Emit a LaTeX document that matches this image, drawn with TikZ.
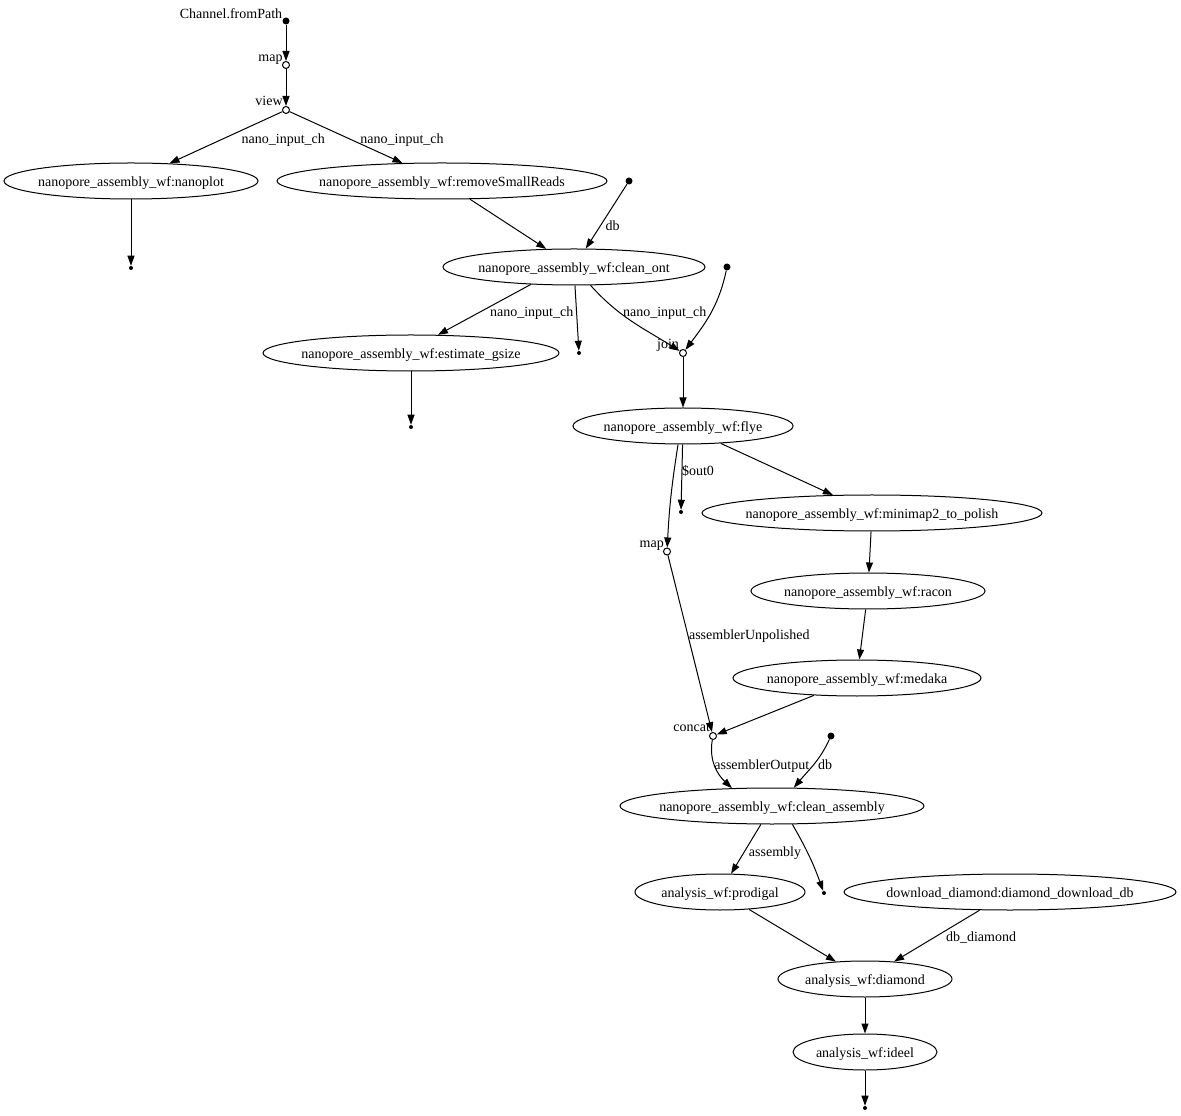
\documentclass[tikz,border=0pt]{standalone}
\usepackage{fontspec}
\setmainfont{Liberation Serif}
\usetikzlibrary{arrows.meta,shapes.geometric}
\newcommand\ptxt[1]{\hbox to 0pt{\hss#1\hss}}
\begin{document}
\begin{tikzpicture}[x=0.75pt,y=0.75pt,
  every node/.style={font=\fontsize{10.5pt}{12pt}\selectfont,text height=8.5pt,text depth=0.5pt},
  proc/.style={ellipse,draw,line width=0.75pt,inner sep=0pt,minimum height=27pt},
  src/.style={circle,fill=black,inner sep=0pt,minimum size=5.25pt,text height=0pt,text depth=0pt},
  opn/.style={circle,draw,fill=white,line width=0.75pt,inner sep=0pt,minimum size=5.25pt,text height=0pt,text depth=0pt},
  sink/.style={circle,fill=black,inner sep=0pt,minimum size=3pt,text height=0pt,text depth=0pt},
  lbl/.style={inner sep=0pt},
  edge/.style={line width=0.75pt,-{Triangle[length=7.5pt,width=5.25pt]}}
]
\fill[white] (0,0) rectangle (1181,1115);
\useasboundingbox (0,0) rectangle (1181,1115);

% nodes
\node[src] (src) at (286,1094) {};
\node[opn] (map1) at (286,1050) {};
\node[opn] (view) at (286,1005) {};
\node[proc,minimum width=190.5pt] (nanoplot) at (131,934) {\ptxt{nanopore\_assembly\_wf:nanoplot}};
\node[proc,minimum width=247.5pt] (rsr) at (442,934) {\ptxt{nanopore\_assembly\_wf:removeSmallReads}};
\node[src] (dbA) at (629,934) {};
\node[proc,minimum width=196.5pt] (ont) at (574,848) {\ptxt{nanopore\_assembly\_wf:clean\_ont}};
\node[src] (dbB) at (727,848) {};
\node[sink] (d131) at (131,847) {};
\node[proc,minimum width=222pt] (est) at (411,762) {\ptxt{nanopore\_assembly\_wf:estimate\_gsize}};
\node[opn] (join) at (683,762) {};
\node[sink] (d580) at (579,762) {};
\node[proc,minimum width=165pt] (flye) at (683,689) {\ptxt{nanopore\_assembly\_wf:flye}};
\node[sink] (d411) at (411,688) {};
\node[proc,minimum width=255pt] (minimap) at (872,602) {\ptxt{nanopore\_assembly\_wf:minimap2\_to\_polish}};
\node[sink] (d681) at (681,603) {};
\node[opn] (map2) at (667,563.5) {};
\node[proc,minimum width=175.5pt] (racon) at (868,524) {\ptxt{nanopore\_assembly\_wf:racon}};
\node[proc,minimum width=186pt] (medaka) at (857,437) {\ptxt{nanopore\_assembly\_wf:medaka}};
\node[opn] (concat) at (713,379) {};
\node[src] (dbC) at (831,379) {};
\node[proc,minimum width=228pt] (ca) at (772,309) {\ptxt{nanopore\_assembly\_wf:clean\_assembly}};
\node[proc,minimum width=127.5pt] (prodigal) at (720,223) {\ptxt{analysis\_wf:prodigal}};
\node[sink] (d824) at (824,222) {};
\node[proc,minimum width=249pt] (dl) at (1010,223) {\ptxt{download\_diamond:diamond\_download\_db}};
\node[proc,minimum width=130.5pt] (diamond) at (865,136) {\ptxt{analysis\_wf:diamond}};
\node[proc,minimum width=108pt] (ideel) at (865,63) {\ptxt{analysis\_wf:ideel}};
\node[sink] (d865) at (865,7) {};

% labels
\node[lbl] (l1) at (231,1102) {Channel.fromPath};
\node[lbl] (l2) at (270.5,1059) {map};
\node[lbl] (l3) at (269,1015) {view};
\node[lbl] (l4) at (283.3,976.7) {nano\_input\_ch};
\node[lbl] (l5) at (402,977) {nano\_input\_ch};
\node[lbl] (l6) at (612.5,890) {db};
\node[lbl] (l7) at (531.7,804.3) {nano\_input\_ch};
\node[lbl] (l8) at (664.7,804.3) {nano\_input\_ch};
\node[lbl] (l9) at (668,772.3) {join};
\node[lbl] (l10) at (698,645) {\$out0};
\node[lbl] (l11) at (651.7,573.3) {map};
\node[lbl] (l12) at (749.3,480.7) {assemblerUnpolished};
\node[lbl] (l13) at (691.7,389.3) {concat};
\node[lbl] (l14) at (761.8,350.7) {assemblerOutput};
\node[lbl] (l15) at (825,350.7) {db};
\node[lbl] (l16) at (775,264.3) {assembly};
\node[lbl] (l17) at (981,179) {db\_diamond};

% edges
\draw[edge] (src) -- (map1);
\draw[edge] (map1) -- (view);
\draw[edge] (view) -- (nanoplot);
\draw[edge] (view) -- (rsr);
\draw[edge] (nanoplot) -- (d131);
\draw[edge] (rsr) -- (ont);
\draw[edge] (dbA) -- (ont);
\draw[edge] (ont.202) -- (est.34);
\draw[edge] (ont.-87) -- (d580);
\draw[edge] (ont.-48) to[out=-48,in=148] (join);
\draw[edge] (dbB) to[out=-102,in=53] (join);
\draw[edge] (est) -- (d411);
\draw[edge] (join) -- (flye);
\draw[edge] (flye) -- (d681);
\draw[edge] (flye.-105) to[out=-99,in=87] (map2);
\draw[edge] (flye) -- (minimap);
\draw[edge] (minimap) -- (racon);
\draw[edge] (racon) -- (medaka);
\draw[edge] (map2) -- (concat);
\draw[edge] (medaka) -- (concat);
\draw[edge] (concat) to[out=-100,in=137] (ca.156);
\draw[edge] (dbC) to[out=-115,in=50] (ca.40);
\draw[edge] (ca) -- (prodigal);
\draw[edge] (ca.-42) to[out=-60,in=110] (d824);
\draw[edge] (prodigal) -- (diamond);
\draw[edge] (dl) -- (diamond);
\draw[edge] (diamond) -- (ideel);
\draw[edge] (ideel) -- (d865);
\end{tikzpicture}
\end{document}
